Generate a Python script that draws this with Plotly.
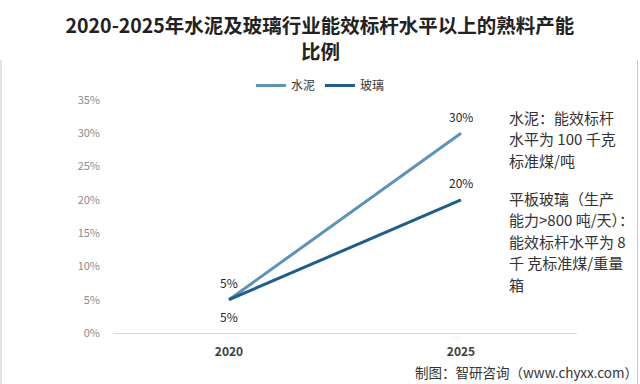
import plotly.graph_objects as go

years = ["2020", "2025"]
cement = [0.05, 0.30]
glass = [0.05, 0.20]
cement_labels = ["5%", "30%"]
glass_labels = ["5%", "20%"]
yticks = [0, 0.05, 0.10, 0.15, 0.20, 0.25, 0.30, 0.35]
ytick_text = ["0%", "5%", "10%", "15%", "20%", "25%", "30%", "35%"]

FONT = "Noto Sans CJK SC"

fig = go.Figure()
fig.add_trace(go.Scatter(
    x=years, y=cement, name="水泥", mode="lines",
    line=dict(color="#5B93BA", width=3),
))
fig.add_trace(go.Scatter(
    x=years, y=glass, name="玻璃", mode="lines",
    line=dict(color="#1B5E8E", width=3),
))

# data labels (category axis positions are the category indices)
for i, (yv, lab) in enumerate(zip(cement, cement_labels)):
    fig.add_annotation(x=i, y=yv, xref="x", yref="y", text=lab, showarrow=False, yshift=17,
                       font=dict(family=FONT, size=12, color="#262626"))
glass_shift = [-17, 17]
for i, (yv, lab, s) in enumerate(zip(glass, glass_labels, glass_shift)):
    fig.add_annotation(x=i, y=yv, xref="x", yref="y", text=lab, showarrow=False, yshift=s,
                       font=dict(family=FONT, size=12, color="#262626"))

fig.update_layout(
    width=640, height=384,
    margin=dict(l=113, r=63, t=100, b=51),
    paper_bgcolor="white", plot_bgcolor="white",
    font=dict(family=FONT, color="#333333"),
    title=dict(
        text="<b>2020-2025年水泥及玻璃行业能效标杆水平以上的熟料产能</b>",
        x=0.5, xanchor="center", xref="container", yref="container",
        y=(384 - 26) / 384, yanchor="middle",
        font=dict(family=FONT, size=19.5, color="#222222"),
    ),
    legend=dict(
        orientation="h", x=0.447, xanchor="center", y=1.0, yanchor="bottom",
        font=dict(family=FONT, size=12, color="#333333"),
        bgcolor="rgba(0,0,0,0)",
    ),
    showlegend=True,
)
# second title line
fig.add_annotation(text="<b>比例</b>", xref="paper", yref="paper",
                   x=(320 - 113) / 464, y=(333 - 51) / 233, xanchor="center", yanchor="middle",
                   showarrow=False, font=dict(family=FONT, size=19.5, color="#222222"))

fig.update_xaxes(
    type="category", range=[-0.5, 1.5], showgrid=False,
    showline=True, linecolor="#D9D9D9", linewidth=1,
    tickfont=dict(family=FONT, size=12, color="#404040"),
    ticks="", ticklabelstandoff=8,
    tickprefix="<b>", ticksuffix="</b>",
)
fig.update_yaxes(
    range=[0, 0.35], tickvals=yticks, ticktext=ytick_text,
    showgrid=False, zeroline=False, showline=False,
    tickfont=dict(family=FONT, size=11, color="#8C8C8C"),
    ticklabelstandoff=12,
)

note1 = ["水泥：能效标杆", "水平为 100 千克", "标准煤/吨"]
note2 = ["平板玻璃（生产", "能力>800 吨/天）：", "能效标杆水平为 8", "千 克标准煤/重量", "箱"]
for i, t in enumerate(note1):
    fig.add_annotation(text=t, xref="paper", yref="paper", x=(507 - 113) / 464,
                       y=(333 - (117 + i * 21.5)) / 233, xanchor="left", yanchor="middle",
                       showarrow=False, font=dict(family=FONT, size=15, color="#333333"))
for i, t in enumerate(note2):
    fig.add_annotation(text=t, xref="paper", yref="paper", x=(507 - 113) / 464,
                       y=(333 - (198 + i * 21.5)) / 233, xanchor="left", yanchor="middle",
                       showarrow=False, font=dict(family=FONT, size=15, color="#333333"))

fig.add_annotation(text="制图：智研咨询（www.chyxx.com）", xref="paper", yref="paper",
                   x=(640 - 113) / 464, y=(333 - 372) / 233, xanchor="right", yanchor="middle",
                   showarrow=False, font=dict(family=FONT, size=13.5, color="#333333"))

# thin frame lines at the image sides
for px in (1, 637.5):
    fig.add_shape(type="line", xref="paper", yref="paper",
                  x0=(px - 113) / 464, x1=(px - 113) / 464,
                  y0=(333 - 384) / 233, y1=(333 - 60) / 233,
                  line=dict(color="#C8C8C8", width=1))

fig.write_html("out.html", config={"displayModeBar": False},
               post_script="document.body.style.margin='0';")
